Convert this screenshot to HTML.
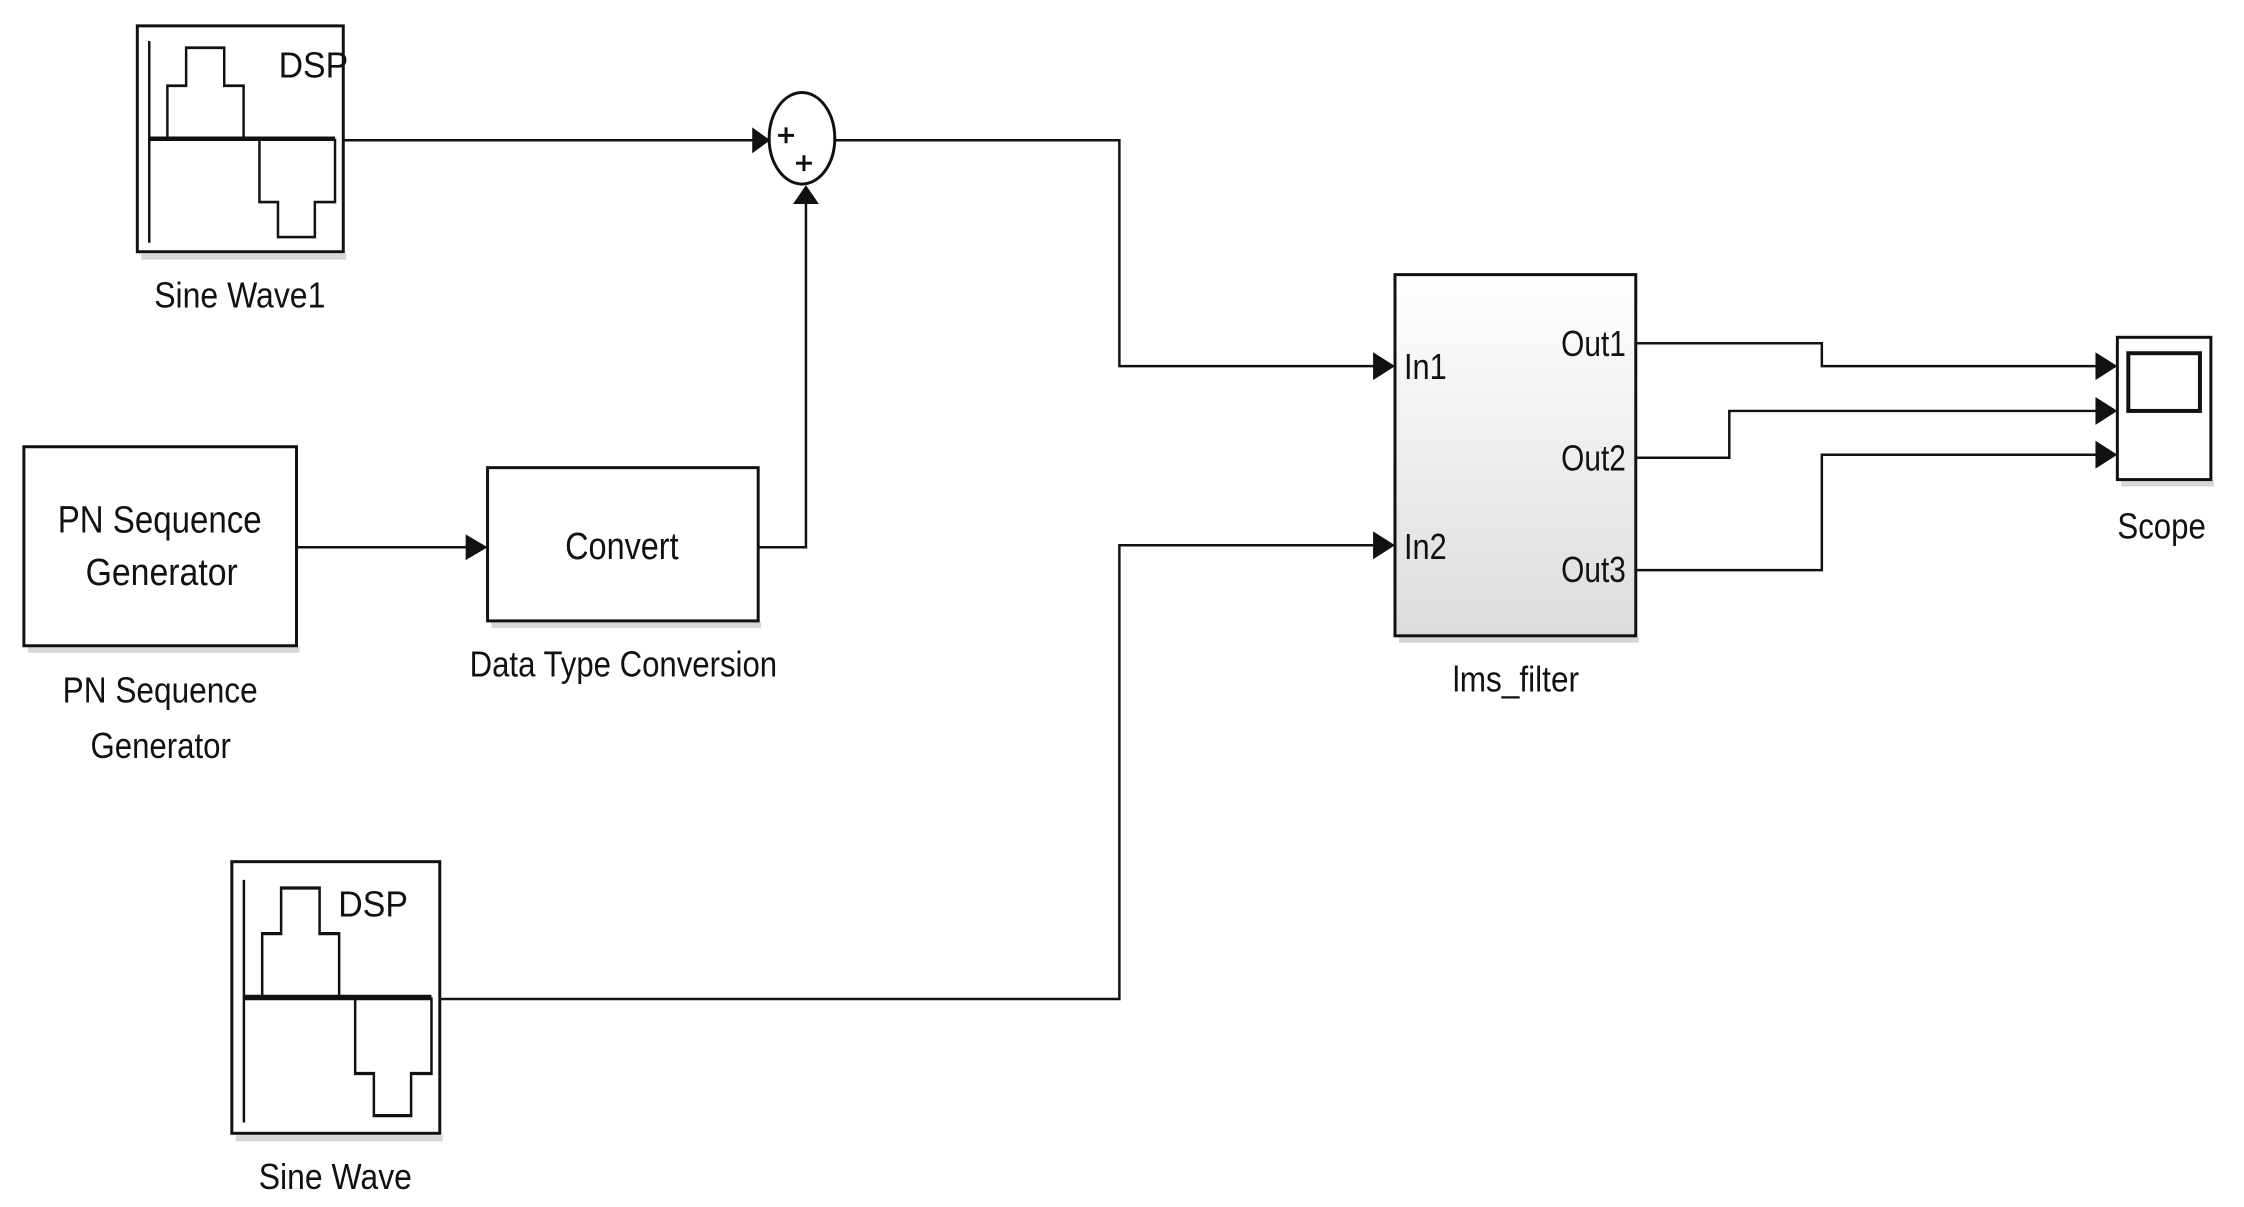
<!DOCTYPE html>
<html><head><meta charset="utf-8"><style>
html,body{margin:0;padding:0;background:#fff;}
svg{display:block;}
text{font-family:"Liberation Sans Narrow","Liberation Sans",sans-serif;fill:#111;}
</style></head><body>
<svg width="2244" height="1207" viewBox="0 0 2244 1207" xmlns="http://www.w3.org/2000/svg">
<defs>
<linearGradient id="g" x1="0" y1="0" x2="0" y2="1"><stop offset="0" stop-color="#ffffff"/><stop offset="1" stop-color="#dcdcdc"/></linearGradient>
<g id="icon" fill="none" stroke="#111" stroke-width="3">
<line x1="0.058" y1="0.067" x2="0.058" y2="0.96" stroke-width="0.012"/>
<polyline points="0.058,0.5 0.96,0.5" stroke-width="0.02"/>
<polyline points="0.146,0.5 0.146,0.265 0.237,0.265 0.237,0.097 0.422,0.097 0.422,0.265 0.516,0.265 0.516,0.5 0.593,0.5 0.593,0.78 0.683,0.78 0.683,0.935 0.862,0.935 0.862,0.78 0.96,0.78 0.96,0.5" stroke-width="0.012"/>
</g>
</defs>
<g transform="scale(0.995)">
<g fill="none" stroke="#111" stroke-width="3">
<g stroke="#bbb" stroke-width="6" opacity="0.6">
<line x1="142" y1="258" x2="348" y2="258"/><line x1="237" y1="1144" x2="445" y2="1144"/>
<line x1="28" y1="653" x2="301" y2="653"/><line x1="494" y1="628" x2="765" y2="628"/>
<line x1="1406" y1="643" x2="1647" y2="643"/><line x1="2132" y1="486" x2="2225" y2="486"/>
</g>
<rect x="138" y="26" width="207" height="227" fill="#fff"/>
<rect x="233" y="866" width="209" height="273" fill="#fff"/>
<rect x="24" y="449" width="274" height="200" fill="#fff"/>
<rect x="490" y="470" width="272" height="154" fill="#fff"/>
<rect x="1402" y="276" width="242" height="363" fill="url(#g)"/>
<rect x="2128" y="339" width="94" height="143" fill="#fff"/>
<rect x="2139" y="355" width="72" height="58" fill="#fff" stroke-width="4"/>
<ellipse cx="806" cy="139" rx="33" ry="46" fill="#fff"/>
<polyline points="345,141 760,141" stroke-width="2.5"/>
<polyline points="839,141 1125,141 1125,368 1385,368" stroke-width="2.5"/>
<polyline points="298,550 472,550" stroke-width="2.5"/>
<polyline points="762,550 810,550 810,205" stroke-width="2.5"/>
<polyline points="442,1004 1125,1004 1125,548 1385,548" stroke-width="2.5"/>
<polyline points="1644,345 1831,345 1831,368 2110,368" stroke-width="2.5"/>
<polyline points="1644,460 1738,460 1738,413 2110,413" stroke-width="2.5"/>
<polyline points="1644,573 1831,573 1831,457 2110,457" stroke-width="2.5"/>
</g>
<g fill="#111">
<polygon points="756,128 774,141 756,154"/>
<polygon points="797,205 810,186 823,205"/>
<polygon points="468,537 490,550 468,563"/>
<polygon points="1380,354 1402,368 1380,382"/>
<polygon points="1380,534 1402,548 1380,562"/>
<polygon points="2106,354 2128,368 2106,382"/>
<polygon points="2106,399 2128,413 2106,427"/>
<polygon points="2106,443 2128,457 2106,471"/>
</g>
<g stroke="#111" stroke-width="3">
<line x1="782" y1="136" x2="798" y2="136"/><line x1="790" y1="128" x2="790" y2="144"/>
<line x1="800" y1="164" x2="816" y2="164"/><line x1="808" y1="156" x2="808" y2="172"/>
</g>
<use href="#icon" transform="translate(138,26) scale(207,227)"/>
<use href="#icon" transform="translate(233,866) scale(209,273)"/>
<text x="280" y="78" font-size="36" textLength="70" lengthAdjust="spacingAndGlyphs">DSP</text>
<text x="340" y="921" font-size="36" textLength="70" lengthAdjust="spacingAndGlyphs">DSP</text>
<text x="155" y="309" font-size="36" textLength="172" lengthAdjust="spacingAndGlyphs">Sine Wave1</text>
<text x="260" y="1195" font-size="36" textLength="154" lengthAdjust="spacingAndGlyphs">Sine Wave</text>
<text x="58" y="535" font-size="38" textLength="205" lengthAdjust="spacingAndGlyphs">PN Sequence</text>
<text x="86" y="588" font-size="38" textLength="153" lengthAdjust="spacingAndGlyphs">Generator</text>
<text x="63" y="706" font-size="36" textLength="196" lengthAdjust="spacingAndGlyphs">PN Sequence</text>
<text x="91" y="762" font-size="36" textLength="141" lengthAdjust="spacingAndGlyphs">Generator</text>
<text x="568" y="562" font-size="38" textLength="114" lengthAdjust="spacingAndGlyphs">Convert</text>
<text x="472" y="680" font-size="36" textLength="309" lengthAdjust="spacingAndGlyphs">Data Type Conversion</text>
<text x="1411" y="381" font-size="36" textLength="43" lengthAdjust="spacingAndGlyphs">In1</text>
<text x="1411" y="562" font-size="36" textLength="43" lengthAdjust="spacingAndGlyphs">In2</text>
<text x="1569" y="358" font-size="36" textLength="65" lengthAdjust="spacingAndGlyphs">Out1</text>
<text x="1569" y="473" font-size="36" textLength="65" lengthAdjust="spacingAndGlyphs">Out2</text>
<text x="1569" y="585" font-size="36" textLength="65" lengthAdjust="spacingAndGlyphs">Out3</text>
<text x="1460" y="695" font-size="36" textLength="127" lengthAdjust="spacingAndGlyphs">lms_filter</text>
<text x="2128" y="541" font-size="36" textLength="89" lengthAdjust="spacingAndGlyphs">Scope</text>
</g>
</svg>
</body></html>
